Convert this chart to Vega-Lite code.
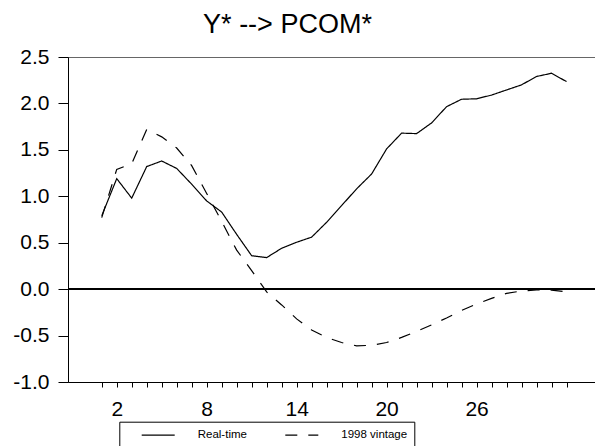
{
  "$schema": "https://vega.github.io/schema/vega-lite/v6.json",
  "width": 527,
  "height": 325,
  "autosize": {"type": "none"},
  "padding": {"left": 68, "top": 57, "right": 0, "bottom": 64},
  "background": "white",
  "title": {
    "text": "Y* --> PCOM*",
    "font": "Liberation Sans",
    "fontSize": 27,
    "fontWeight": "normal",
    "color": "black",
    "anchor": "middle",
    "frame": "group",
    "dx": -44,
    "offset": 7
  },
  "config": {
    "font": "Liberation Sans",
    "view": {"stroke": "#666", "strokeWidth": 1}
  },
  "data": {
    "values": [
      {"period": 1, "series": "Real-time", "value": 0.79},
      {"period": 2, "series": "Real-time", "value": 1.19},
      {"period": 3, "series": "Real-time", "value": 0.98},
      {"period": 4, "series": "Real-time", "value": 1.32},
      {"period": 5, "series": "Real-time", "value": 1.38},
      {"period": 6, "series": "Real-time", "value": 1.30},
      {"period": 7, "series": "Real-time", "value": 1.13},
      {"period": 8, "series": "Real-time", "value": 0.95},
      {"period": 9, "series": "Real-time", "value": 0.83},
      {"period": 10, "series": "Real-time", "value": 0.59},
      {"period": 11, "series": "Real-time", "value": 0.36},
      {"period": 12, "series": "Real-time", "value": 0.34},
      {"period": 13, "series": "Real-time", "value": 0.44},
      {"period": 14, "series": "Real-time", "value": 0.505},
      {"period": 15, "series": "Real-time", "value": 0.56},
      {"period": 16, "series": "Real-time", "value": 0.72},
      {"period": 17, "series": "Real-time", "value": 0.90},
      {"period": 18, "series": "Real-time", "value": 1.08},
      {"period": 19, "series": "Real-time", "value": 1.24},
      {"period": 20, "series": "Real-time", "value": 1.51},
      {"period": 21, "series": "Real-time", "value": 1.68},
      {"period": 22, "series": "Real-time", "value": 1.675},
      {"period": 23, "series": "Real-time", "value": 1.79},
      {"period": 24, "series": "Real-time", "value": 1.965},
      {"period": 25, "series": "Real-time", "value": 2.045},
      {"period": 26, "series": "Real-time", "value": 2.05},
      {"period": 27, "series": "Real-time", "value": 2.09},
      {"period": 28, "series": "Real-time", "value": 2.145},
      {"period": 29, "series": "Real-time", "value": 2.20},
      {"period": 30, "series": "Real-time", "value": 2.29},
      {"period": 31, "series": "Real-time", "value": 2.325},
      {"period": 32, "series": "Real-time", "value": 2.235},
      {"period": 1, "series": "1998 vintage", "value": 0.77},
      {"period": 2, "series": "1998 vintage", "value": 1.29},
      {"period": 3, "series": "1998 vintage", "value": 1.35},
      {"period": 4, "series": "1998 vintage", "value": 1.72},
      {"period": 5, "series": "1998 vintage", "value": 1.64},
      {"period": 6, "series": "1998 vintage", "value": 1.52},
      {"period": 7, "series": "1998 vintage", "value": 1.33},
      {"period": 8, "series": "1998 vintage", "value": 1.03},
      {"period": 9, "series": "1998 vintage", "value": 0.73},
      {"period": 10, "series": "1998 vintage", "value": 0.42},
      {"period": 11, "series": "1998 vintage", "value": 0.20},
      {"period": 12, "series": "1998 vintage", "value": -0.03},
      {"period": 13, "series": "1998 vintage", "value": -0.17},
      {"period": 14, "series": "1998 vintage", "value": -0.32},
      {"period": 15, "series": "1998 vintage", "value": -0.44},
      {"period": 16, "series": "1998 vintage", "value": -0.52},
      {"period": 17, "series": "1998 vintage", "value": -0.575},
      {"period": 18, "series": "1998 vintage", "value": -0.61},
      {"period": 19, "series": "1998 vintage", "value": -0.605},
      {"period": 20, "series": "1998 vintage", "value": -0.575},
      {"period": 21, "series": "1998 vintage", "value": -0.52},
      {"period": 22, "series": "1998 vintage", "value": -0.455},
      {"period": 23, "series": "1998 vintage", "value": -0.385},
      {"period": 24, "series": "1998 vintage", "value": -0.31},
      {"period": 25, "series": "1998 vintage", "value": -0.23},
      {"period": 26, "series": "1998 vintage", "value": -0.16},
      {"period": 27, "series": "1998 vintage", "value": -0.10},
      {"period": 28, "series": "1998 vintage", "value": -0.045},
      {"period": 29, "series": "1998 vintage", "value": -0.02},
      {"period": 30, "series": "1998 vintage", "value": -0.008},
      {"period": 31, "series": "1998 vintage", "value": -0.01},
      {"period": 32, "series": "1998 vintage", "value": -0.03}
    ]
  },
  "layer": [
    {
      "mark": {"type": "line", "color": "black", "strokeWidth": 1.2},
      "encoding": {
        "x": {
          "field": "period",
          "type": "quantitative",
          "scale": {"domain": [-1.25, 33.9], "nice": false, "zero": false},
          "axis": {
            "title": null,
            "values": [1, 2, 3, 4, 5, 6, 7, 8, 9, 10, 11, 12, 13, 14, 15, 16, 17, 18, 19, 20, 21, 22, 23, 24, 25, 26, 27, 28, 29, 30, 31, 32],
            "labelExpr": "(datum.value - 2) % 6 == 0 && datum.value < 30 ? datum.label : ''",
            "grid": false,
            "tickSize": 5,
            "tickColor": "black",
            "domainColor": "black",
            "labelColor": "black",
            "labelFont": "Liberation Sans",
            "labelFontSize": 21,
            "labelPadding": 11,
            "labelFlush": false,
            "labelOverlap": false
          }
        },
        "y": {
          "field": "value",
          "type": "quantitative",
          "scale": {"domain": [-1, 2.5], "nice": false, "zero": false},
          "axis": {
            "title": null,
            "values": [-1, -0.5, 0, 0.5, 1, 1.5, 2, 2.5],
            "labelExpr": "replace(format(datum.value, '.1f'), '\u2212', '-')",
            "grid": false,
            "tickSize": 10,
            "tickColor": "black",
            "domainColor": "black",
            "labelColor": "black",
            "labelFont": "Liberation Sans",
            "labelFontSize": 21,
            "labelPadding": 9,
            "labelFlush": false,
            "labelOverlap": false
          }
        },
        "strokeDash": {
          "field": "series",
          "type": "nominal",
          "scale": {"domain": ["Real-time", "1998 vintage"], "range": [[1, 0], [12, 11]]},
          "legend": {
            "orient": "none",
            "legendX": 51.3,
            "legendY": 364.7,
            "direction": "horizontal",
            "title": null,
            "strokeColor": "black",
            "fillColor": "white",
            "padding": 7,
            "clipHeight": 13,
            "symbolType": "stroke",
            "symbolSize": 1089,
            "symbolStrokeWidth": 1.2,
            "symbolStrokeColor": "black",
            "symbolOffset": 14.4,
            "labelOffset": 22,
            "columnPadding": 22.6,
            "labelFont": "Liberation Sans",
            "labelFontSize": 11.5,
            "labelColor": "black"
          }
        }
      }
    },
    {
      "mark": {"type": "rule", "color": "black", "strokeWidth": 1.5},
      "encoding": {"y": {"datum": 0}}
    }
  ]
}
